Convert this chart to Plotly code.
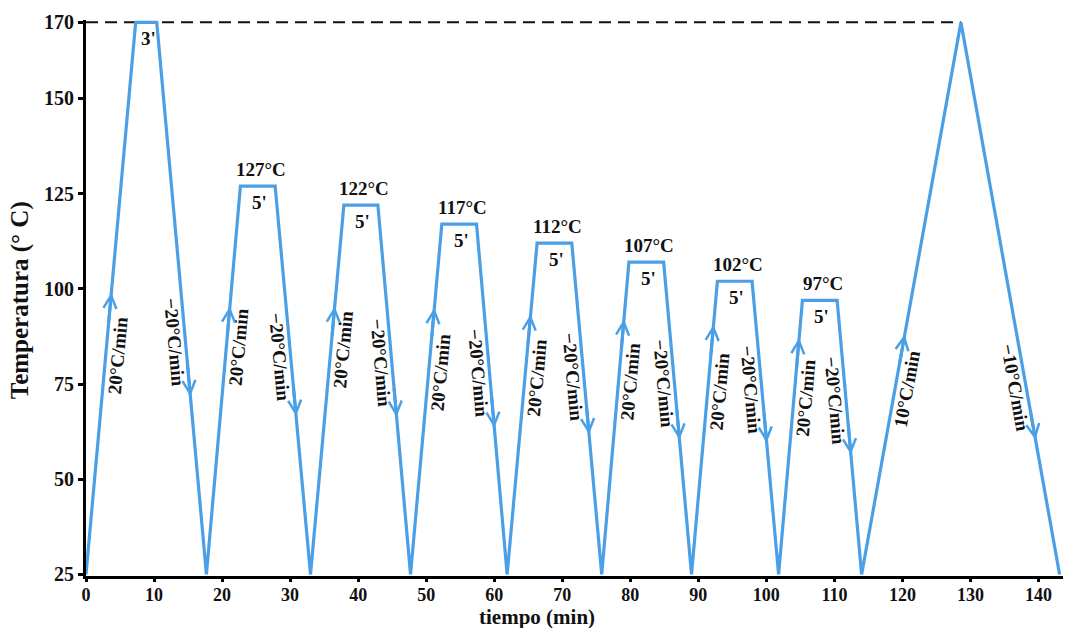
import numpy as np
import plotly.graph_objects as go

# ---- data ----
time_min = [0, 7.3, 10.4, 17.7, 22.7, 27.8, 33.0, 37.9, 42.9, 47.7, 52.3, 57.4, 61.9,
            66.3, 71.4, 75.8, 79.8, 84.9, 89.0, 92.8, 97.9, 101.8, 105.3, 110.4, 114.0,
            128.6, 143.1]
temp_c = [25, 170, 170, 25, 127, 127, 25, 122, 122, 25, 117, 117, 25, 112, 112, 25,
          107, 107, 25, 102, 102, 25, 97, 97, 25, 170, 25]

hold_temp_labels = ["127°C", "122°C", "117°C", "112°C", "107°C", "102°C", "97°C"]
hold_time_labels = ["3'", "5'", "5'", "5'", "5'", "5'", "5'", "5'"]
rate_up_labels = ["20°C/min"] * 8 + ["10°C/min"]
rate_down_labels = ["\u221220°C/min"] * 8 + ["\u221210°C/min"]
up_label_y = [82.5, 84.9, 84.1, 78.0, 76.7, 75.6, 73.0, 71.4, 73.8]
down_label_y = [85.9, 82.0, 80.4, 77.8, 76.7, 75.1, 73.3, 70.7, 74.1]
up_arrow_y = [99.0, 95.4, 95.4, 95.0, 93.3, 92.0, 90.6, 87.1, 88.0]
down_arrow_y = [71.8, 66.6, 66.4, 63.5, 61.8, 60.4, 59.6, 56.5, 60.4]
y_ticks = [25, 50, 75, 100, 125, 150, 170]
x_ticks = list(range(0, 141, 10))

# ---- layout constants ----
W, H = 1065, 628
ML, MR, MT, MB = 86, 2, 20, 52
XR = [0, 143.6]
YR = [24.6, 170.6]
px_x = (W - ML - MR) / (XR[1] - XR[0])
px_y = (H - MT - MB) / (YR[1] - YR[0])
BLUE = "#4A9FE6"
FONT = "Liberation Serif"

fig = go.Figure()
peak_last = time_min[int(np.argmax(temp_c[3:])) + 3]
fig.add_trace(go.Scatter(x=[0, peak_last], y=[170, 170], mode="lines",
                         line=dict(color="#111111", width=2, dash="12px,7px"),
                         hoverinfo="skip", showlegend=False))
fig.add_trace(go.Scatter(x=time_min, y=temp_c, mode="lines",
                         line=dict(color=BLUE, width=3.2), showlegend=False))

ann = []
t = np.array(time_min, float)
T = np.array(temp_c, float)
ups = [k for k in range(len(T) - 1) if T[k + 1] > T[k]]
downs = [k for k in range(len(T) - 1) if T[k + 1] < T[k]]
plats = [k for k in range(len(T) - 1) if T[k + 1] == T[k]]


def x_on(k, y):
    y0, y1 = T[k], T[k + 1]
    return t[k] + (y - y0) / (y1 - y0) * (t[k + 1] - t[k])


def ang(k):
    dx = (t[k + 1] - t[k]) * px_x
    dy = (T[k + 1] - T[k]) * px_y
    return float(np.degrees(np.arctan2(-dy, dx)))


lab_font = dict(family=FONT, size=19, color="#111111", weight="bold")
for i, k in enumerate(ups):
    a = ang(k)
    yl = up_label_y[i]
    ann.append(dict(x=x_on(k, yl), y=yl, xref="x", yref="y", text=rate_up_labels[i],
                    showarrow=False, textangle=a, xshift=12, font=lab_font))
    ya = up_arrow_y[i]
    ann.append(dict(x=x_on(k, ya), y=ya, ax=x_on(k, ya - 8), ay=ya - 8,
                    xref="x", yref="y", axref="x", ayref="y", text="",
                    showarrow=True, arrowhead=5, arrowsize=0.85, arrowwidth=3,
                    arrowcolor=BLUE, standoff=0))
for i, k in enumerate(downs):
    a = ang(k)
    yl = down_label_y[i]
    ann.append(dict(x=x_on(k, yl), y=yl, xref="x", yref="y", text=rate_down_labels[i],
                    showarrow=False, textangle=a, xshift=-11, font=lab_font))
    ya = down_arrow_y[i]
    ann.append(dict(x=x_on(k, ya), y=ya, ax=x_on(k, ya + 8), ay=ya + 8,
                    xref="x", yref="y", axref="x", ayref="y", text="",
                    showarrow=True, arrowhead=5, arrowsize=0.85, arrowwidth=3,
                    arrowcolor=BLUE, standoff=0))

big_font = dict(family=FONT, size=19, color="#111111", weight="bold")
for i, k in enumerate(plats):
    xc = (t[k] + t[k + 1]) / 2
    ann.append(dict(x=xc, y=T[k], xref="x", yref="y", text=hold_time_labels[i],
                    showarrow=False, xshift=2, yshift=-16, font=big_font))
    if i > 0:
        ann.append(dict(x=xc, y=T[k], xref="x", yref="y", text=hold_temp_labels[i - 1],
                        showarrow=False, xshift=3, yshift=17, font=big_font))

ann.append(dict(x=0.4616, y=-0.0737, xref="paper", yref="paper", text="tiempo (min)",
                xanchor="center", yanchor="middle", showarrow=False,
                font=dict(family=FONT, size=21, color="#111111", weight="bold")))
ann.append(dict(x=-0.0676, y=0.496, xref="paper", yref="paper", text="Temperatura (° C)",
                xanchor="center", yanchor="middle", showarrow=False, textangle=-90,
                font=dict(family=FONT, size=25, color="#111111", weight="bold")))

axis_common = dict(showline=True, linecolor="black", linewidth=3, showgrid=False,
                   zeroline=False, ticks="outside", tickwidth=2.5, tickcolor="black")
fig.update_layout(
    width=W, height=H, margin=dict(l=ML, r=MR, t=MT, b=MB),
    paper_bgcolor="white", plot_bgcolor="white",
    xaxis=dict(range=XR, tickvals=x_ticks, ticklen=3, ticklabelstandoff=-3,
               tickfont=dict(family=FONT, size=18, color="#111111", weight="bold"),
               **axis_common),
    yaxis=dict(range=YR, tickvals=y_ticks, ticklen=5,
               tickfont=dict(family=FONT, size=20, color="#111111", weight="bold"),
               **axis_common),
    annotations=ann, showlegend=False,
)
fig.write_html("out.html")
